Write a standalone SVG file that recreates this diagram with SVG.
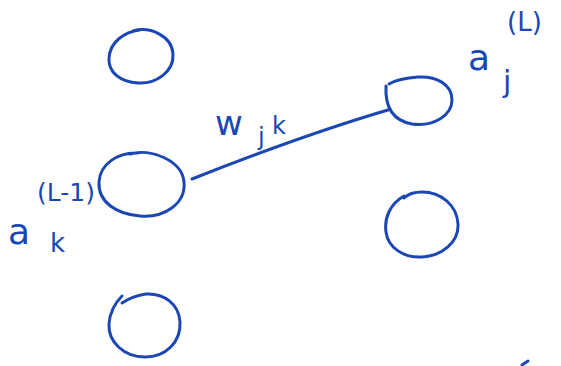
<svg xmlns="http://www.w3.org/2000/svg" width="561" height="366" viewBox="0 0 561 366">
<style>
.n{fill:none;stroke:#1b47b5;stroke-width:3;stroke-linecap:round}
.c{fill:none;stroke:#1b47b5;stroke-width:3;stroke-linecap:round}
.t{fill:#1b47b5;font-family:"DejaVu Sans","Liberation Sans",sans-serif}
</style>
<rect width="561" height="366" fill="#ffffff"/>
<g id="node-a1"><path class="n" d="M133,31 C150,26 172,36 173,54 C174,72 156,84 138,83 C120,82 108,72 109,58 C110,42 124,32 140,30"/></g>
<g id="node-a2"><path class="n" d="M130,154 C150,148 182,160 184,182 C186,204 164,218 140,216 C116,214 98,202 99,182 C100,164 118,152 138,153"/></g>
<g id="node-a3"><path class="n" d="M122,296 C118,300 110,310 109,324 C108,342 124,357 145,357 C166,357 181,342 180,322 C179,304 164,293 146,294 C138,295 128,299 122,303"/></g>
<g id="node-b1"><path class="n" d="M386,86 C385,104 390,120 412,124 C434,127 452,115 452,100 C452,84 436,76 418,77 C404,78 394,81 389,84"/></g>
<g id="node-b2"><path class="n" d="M404,196 C390,204 384,218 386,232 C388,248 404,258 422,257 C442,256 459,242 458,224 C457,206 442,192 422,192 C414,192 408,194 404,198"/></g>
<g id="connectors"><path class="c" d="M192,179 C240,160 320,130 388,110"/><path class="c" d="M522,365 L528,361"/></g>
<g id="labels">
<text class="t" x="37" y="201" font-size="25">(L-1)</text>
<text class="t" x="8" y="244" font-size="36">a</text>
<text class="t" x="50" y="252" font-size="26">k</text>
<text class="t" x="215" y="135" font-size="34">w</text>
<text class="t" x="258" y="145" font-size="24">j</text>
<text class="t" x="272" y="134" font-size="24">k</text>
<text class="t" x="468" y="70" font-size="36">a</text>
<text class="t" x="503" y="92" font-size="30">j</text>
<text class="t" x="507" y="31" font-size="26">(L)</text>
</g>
</svg>
